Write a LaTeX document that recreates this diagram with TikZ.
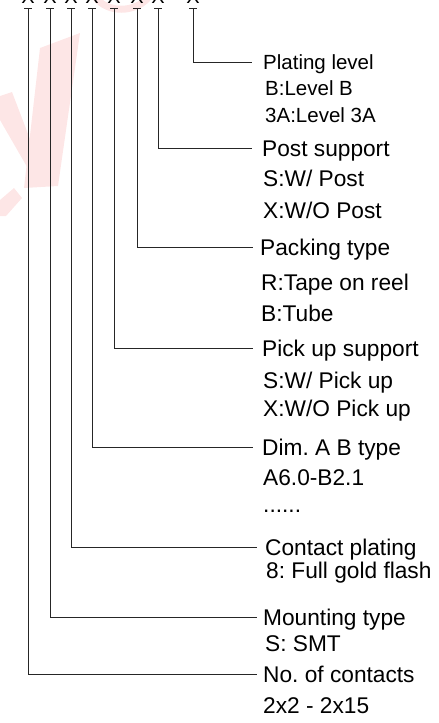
\documentclass[tikz,border=0pt]{standalone}
\usepackage{fontspec}
\setmainfont{Liberation Sans}
\definecolor{wmred}{RGB}{253,230,230}
\frenchspacing
\begin{document}
\begin{tikzpicture}[x=1pt,y=-1pt,
  conn/.style={draw=black!85, line width=0.9pt},
  bar/.style={draw=black!85, line width=0.9pt},
  big/.style={anchor=base west, inner sep=0pt, font=\fontsize{22.7}{25}\selectfont},
  small/.style={anchor=base west, inner sep=0pt, font=\fontsize{20.5}{23}\selectfont},
  xlet/.style={anchor=base, inner sep=0pt, font=\fontsize{20}{22}\selectfont},
  wm/.style={fill=wmred}
]
\useasboundingbox (0,0) rectangle (439,723);
% faint watermark
\draw[draw=wmred, line width=7pt] (96,-2) .. controls (108,13) and (134,13) .. (148,-2);
\fill[wm] (40,48) -- (80,33) -- (58,186) -- (24,188) -- cycle;
\fill[wm] (0,96) -- (12,92) -- (38,160) -- (30,172) -- (0,120) -- cycle;
\fill[wm] (0,200) -- (14,188) -- (22,198) -- (6,216) -- (0,216) -- cycle;

% code letters (cut off at top)
\foreach \n/\x in {1/28,2/50,3/71,4/92,5/114,6/137,7/158,8/193}{
  \node[xlet] (x\n) at (\x,3) {X};
  \coordinate (t\n) at (\x,8.5);
  \draw[bar] ([xshift=-4pt]t\n) -- ([xshift=4pt]t\n);
}

% Plating level
\node[small] (L8) at (263,69.3) {Plating level};
\node[small] (L8a) at (265,95.3) {B:Level B};
\node[small] (L8b) at (265,122.3) {3A:Level 3A};
\draw[conn] (t8) |- ([xshift=-11pt,yshift=7.3pt]L8.base west);

% Post support
\node[big] (L7) at (262,156.1) {Post support};
\node[big] (L7a) at (263,186.1) {S:W/ Post};
\node[big] (L7b) at (263,218.1) {X:W/O Post};
\draw[conn] (t7) |- ([xshift=-10pt,yshift=8.1pt]L7.base west);

% Packing type
\node[big] (L6) at (260,255.1) {Packing type};
\node[big] (L6a) at (261,290.1) {R:Tape on reel};
\node[big] (L6b) at (261,321.1) {B:Tube};
\draw[conn] (t6) |- ([xshift=-7pt,yshift=8.1pt]L6.base west);

% Pick up support
\node[big] (L5) at (262,356.1) {Pick up support};
\node[big] (L5a) at (263,388.1) {S:W/ Pick up};
\node[big] (L5b) at (263,416.1) {X:W/O Pick up};
\draw[conn] (t5) |- ([xshift=-9pt,yshift=8.1pt]L5.base west);

% Dim. A B type
\node[big] (L4) at (262,455.1) {Dim. A B type};
\node[big] (L4a) at (263,485.1) {A6.0-B2.1};
\node[big] (L4b) at (263,512) {......};
\draw[conn] (t4) |- ([xshift=-9pt,yshift=8.1pt]L4.base west);

% Contact plating
\node[big] (L3) at (265,555.1) {Contact plating};
\node[big] (L3a) at (266,578.1) {8: Full gold flash};
\draw[conn] (t3) |- ([xshift=-8pt,yshift=8.1pt]L3.base west);

% Mounting type
\node[big] (L2) at (263,625.1) {Mounting type};
\node[big] (L2a) at (265,651.1) {S: SMT};
\draw[conn] (t2) |- ([xshift=-6pt,yshift=8.1pt]L2.base west);

% No. of contacts
\node[big] (L1) at (263,682.1) {No. of contacts};
\node[big] (L1a) at (263,713.1) {2x2 - 2x15};
\draw[conn] (t1) |- ([xshift=-6pt,yshift=8.1pt]L1.base west);
\end{tikzpicture}
\end{document}
